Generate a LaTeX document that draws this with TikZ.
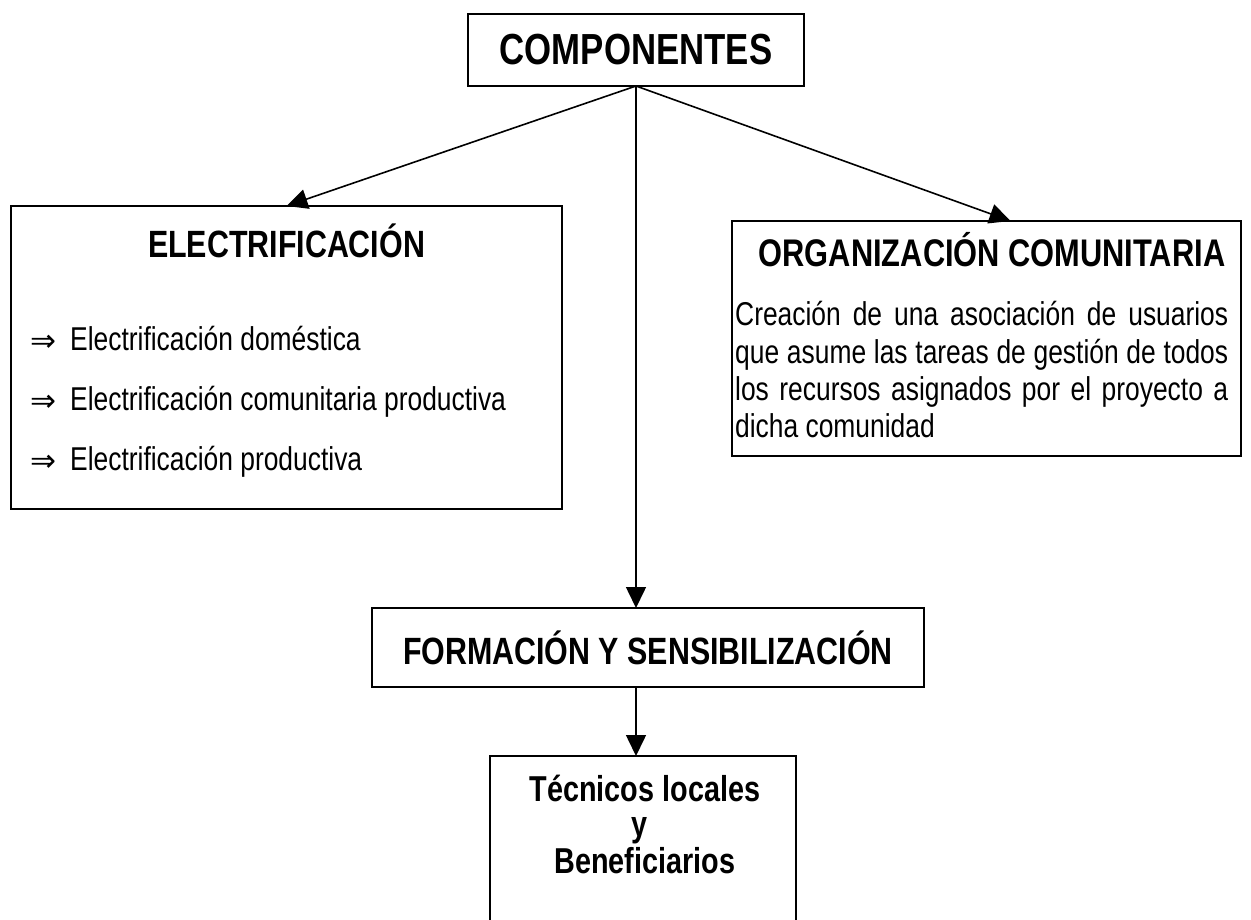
\documentclass[tikz,border=0pt]{standalone}
\usepackage{fontspec}
\setmainfont{Liberation Sans}[FakeStretch=0.8]
\newfontfamily\symfont{DejaVu Sans}
\usetikzlibrary{arrows.meta,calc}
\tikzset{
  box/.style={draw=black, line width=1.8pt, fill=white, inner sep=0pt, outer sep=0pt},
  arr/.style={draw=black, line width=1.6pt, -{Triangle[length=21pt,width=20pt]}},
  ttl/.style={inner sep=0pt, anchor=base},
  bul/.style={inner sep=0pt, anchor=base west, font=\fontsize{33}{37}\selectfont},
  body/.style={inner sep=0pt, anchor=base west, font=\fontsize{33}{37}\selectfont},
}
\newcommand{\bularrow}{\makebox[40pt][l]{\raisebox{-1pt}{\symfont\fontsize{31}{31}\selectfont ⇒}}}
\begin{document}
\begin{tikzpicture}[x=1pt,y=-1pt]
\useasboundingbox (0,0) rectangle (1251,920);
\clip (0,0) rectangle (1251,920);
\fill[white] (0,0) rectangle (1251,920);

% boxes
\node[box, minimum width=336pt, minimum height=72pt,
      font=\bfseries\fontsize{43.5}{48}\selectfont] (comp) at (636,50) {COMPONENTES};
\node[box, minimum width=551pt, minimum height=303pt] (elec) at (286.5,357.5) {};
\node[box, minimum width=509pt, minimum height=235pt] (org) at (986.5,338.5) {};
\node[box, minimum width=552pt, minimum height=79pt,
      font=\bfseries\fontsize{38}{42}\selectfont] (form) at (648,647.5) {FORMACIÓN Y SENSIBILIZACIÓN};
\node[box, minimum width=306pt, minimum height=240pt] (tec) at (643,876) {};

% texts
\node[ttl, font=\bfseries\fontsize{38}{42}\selectfont] (elect) at (286.5,258) {ELECTRIFICACIÓN};
\node[bul] (b1) at (30,350) {\bularrow Electrificación doméstica};
\node[bul] (b2) at (30,410) {\bularrow Electrificación comunitaria productiva};
\node[bul] (b3) at (30,470) {\bularrow Electrificación productiva};

\node[ttl, font=\bfseries\fontsize{38.5}{42}\selectfont] (orgt) at (992,267) {ORGANIZACIÓN COMUNITARIA};
\node[body] (o1) at (735,326) {\makebox[493pt][s]{Creación de una asociación de usuarios}};
\node[body] (o2) at (735,363) {\makebox[493pt][s]{que asume las tareas de gestión de todos}};
\node[body] (o3) at (735,400) {\makebox[493pt][s]{los recursos asignados por el proyecto a}};
\node[body] (o4) at (735,437) {dicha comunidad};

\node[ttl, font=\bfseries\fontsize{36}{36}\selectfont] (tec1) at (645,801) {Técnicos locales};
\node[ttl, font=\bfseries\fontsize{36}{36}\selectfont] (tec2) at (640,836) {y};
\node[ttl, font=\bfseries\fontsize{36}{36}\selectfont] (tec3) at (645,873) {Beneficiarios};

% connectors
\draw[arr] (comp.south) -- (elec.north);
\draw[arr] (comp.south) -- ([xshift=24pt]org.north);
\draw[arr] (comp.south) -- (comp.south |- form.north);
\draw[arr] (comp.south |- form.south) -- (comp.south |- tec.north);
\end{tikzpicture}
\end{document}
